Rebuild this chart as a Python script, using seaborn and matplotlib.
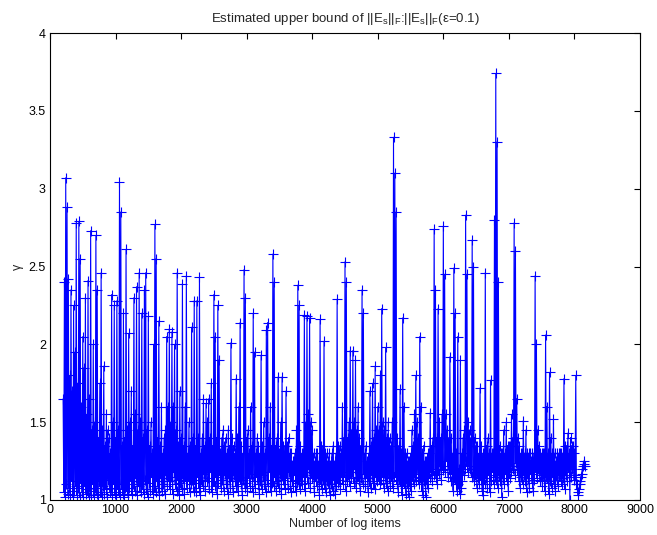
import numpy as np
import pandas as pd
import matplotlib
matplotlib.use("Agg")
import matplotlib.pyplot as plt
import seaborn as sns

# ---- data ----
# gamma_a: values at log items 200, 220, 240, ...
# gamma_b: values at log items 210, 230, 250, ...
x_start, x_step = 200, 10
gamma_a = [
    1.65, 2.40, 3.07, 2.88, 2.42, 1.80, 2.35, 1.70, 2.25, 1.95,   # 200
    2.78, 1.75, 2.79, 2.55, 1.60, 2.05, 1.85, 2.30, 1.55, 2.41,   # 400
    1.65, 2.73, 1.45, 2.00, 1.50, 2.70, 2.35, 1.40, 1.75, 2.46,   # 600
    1.45, 1.86, 1.35, 1.55, 1.45, 1.40, 1.30, 2.32, 1.50, 2.25,   # 800
    1.40, 2.28, 1.45, 3.04, 2.85, 1.35, 2.20, 1.40, 2.61, 1.45,   # 1000
    2.07, 1.50, 1.70, 1.35, 2.30, 1.55, 2.37, 1.45, 2.46, 1.50,   # 1200
    2.20, 1.40, 2.35, 2.46, 1.45, 2.18, 1.35, 1.50, 1.30, 2.00,   # 1400
    2.77, 2.55, 1.40, 2.15, 1.35, 1.60, 1.30, 1.40, 1.45, 2.05,   # 1600
    1.60, 2.10, 1.50, 2.08, 1.60, 2.00, 1.45, 2.46, 1.35, 1.70,   # 1800
    1.40, 2.39, 1.35, 1.60, 2.44, 1.30, 1.50, 1.35, 2.11, 1.40,   # 2000
    2.28, 1.35, 2.28, 1.40, 2.43, 1.30, 1.40, 1.65, 1.35, 1.62,   # 2200
    1.50, 1.65, 1.40, 1.75, 1.35, 2.32, 2.05, 1.40, 2.25, 1.90,   # 2400
    1.30, 1.40, 1.45, 1.35, 1.40, 1.30, 1.45, 1.35, 2.01, 1.40,   # 2600
    1.35, 1.30, 1.78, 1.40, 1.60, 2.14, 1.35, 1.30, 2.48, 2.30,   # 2800
    1.40, 1.45, 1.30, 1.60, 1.35, 2.20, 1.95, 1.30, 1.40, 1.35,   # 3000
    1.30, 1.93, 1.35, 1.50, 1.30, 2.09, 2.14, 1.40, 1.60, 1.35,   # 3200
    2.58, 2.40, 1.35, 1.40, 1.79, 1.30, 1.50, 1.79, 1.35, 1.35,   # 3400
    1.70, 1.35, 1.40, 1.30, 1.30, 1.25, 1.25, 1.30, 1.45, 2.38,   # 3600
    2.25, 1.35, 1.30, 1.30, 2.19, 1.50, 2.18, 1.55, 2.17, 1.50,   # 3800
    1.45, 1.30, 1.25, 1.30, 1.30, 1.25, 2.16, 1.35, 1.35, 2.02,   # 4000
    1.30, 1.30, 1.25, 1.30, 1.25, 1.30, 1.35, 1.25, 1.30, 2.29,   # 4200
    1.35, 1.35, 1.30, 1.60, 1.40, 2.53, 2.40, 1.40, 1.50, 1.96,   # 4400
    1.45, 1.96, 1.50, 1.90, 1.45, 1.60, 1.40, 1.35, 2.35, 2.20,   # 4600
    1.30, 1.35, 1.25, 1.30, 1.70, 1.35, 1.75, 1.40, 1.86, 1.45,   # 4800
    1.60, 1.45, 1.80, 2.23, 1.50, 1.45, 1.98, 1.40, 1.50, 1.40,   # 5000
    1.35, 1.50, 3.33, 3.10, 2.85, 1.40, 1.35, 1.71, 1.30, 2.17,   # 5200
    1.60, 1.30, 1.30, 1.25, 1.25, 1.30, 1.45, 1.35, 1.55, 1.80,   # 5400
    1.50, 1.40, 2.05, 1.60, 1.30, 1.35, 1.25, 1.25, 1.30, 1.30,   # 5600
    1.56, 1.35, 1.40, 2.74, 2.35, 1.40, 2.23, 1.50, 1.40, 1.55,   # 5800
    2.76, 2.45, 1.55, 1.45, 1.40, 1.92, 1.40, 1.30, 2.49, 2.20,   # 6000
    1.30, 2.05, 1.20, 1.90, 1.30, 1.40, 1.45, 2.83, 2.45, 1.50,   # 6200
    1.45, 1.40, 2.67, 2.50, 1.40, 1.35, 1.35, 1.30, 1.72, 1.35,   # 6400
    1.30, 1.30, 2.46, 1.35, 1.40, 1.30, 1.77, 1.30, 1.30, 2.80,   # 6600
    3.74, 3.30, 2.40, 1.35, 1.30, 1.30, 1.45, 1.30, 1.50, 1.35,   # 6800
    1.35, 1.35, 1.55, 1.40, 2.78, 2.60, 1.65, 1.40, 1.35, 1.30,   # 7000
    1.30, 1.51, 1.30, 1.45, 1.30, 1.30, 1.30, 1.25, 1.30, 1.30,   # 7200
    2.44, 2.00, 1.45, 1.35, 1.30, 1.30, 1.30, 1.30, 2.06, 1.60,   # 7400
    1.30, 1.82, 1.40, 1.30, 1.52, 1.30, 1.25, 1.30, 1.30, 1.30,   # 7600
    1.30, 1.30, 1.78, 1.35, 1.35, 1.43, 1.30, 1.40, 1.35, 1.35,   # 7800
    1.30, 1.80, 1.10, 1.05, 1.10, 1.15, 1.20, 1.25, 1.22,         # 8000
]
gamma_b = [
    1.05, 1.02, 1.10, 1.04, 1.08, 1.03, 1.12, 1.02, 1.06, 1.09,   # 210
    1.03, 1.08, 1.02, 1.11, 1.05, 1.02, 1.09, 1.04, 1.07, 1.02,   # 410
    1.06, 1.03, 1.10, 1.02, 1.08, 1.04, 1.03, 1.12, 1.05, 1.02,   # 610
    1.09, 1.04, 1.07, 1.02, 1.13, 1.05, 1.08, 1.03, 1.10, 1.04,   # 810
    1.02, 1.07, 1.05, 1.03, 1.10, 1.04, 1.02, 1.08, 1.06, 1.03,   # 1010
    1.08, 1.12, 1.04, 1.10, 1.06, 1.14, 1.03, 1.09, 1.12, 1.05,   # 1210
    1.10, 1.04, 1.13, 1.07, 1.02, 1.11, 1.06, 1.15, 1.04, 1.09,   # 1410
    1.05, 1.12, 1.08, 1.03, 1.14, 1.06, 1.10, 1.04, 1.16, 1.09,   # 1610
    1.12, 1.07, 1.15, 1.04, 1.18, 1.10, 1.06, 1.13, 1.03, 1.11,   # 1810
    1.07, 1.14, 1.04, 1.12, 1.08, 1.16, 1.05, 1.10, 1.13, 1.06,   # 2010
    1.11, 1.05, 1.15, 1.08, 1.03, 1.13, 1.09, 1.17, 1.06, 1.12,   # 2210
    1.14, 1.07, 1.18, 1.05, 1.12, 1.09, 1.15, 1.04, 1.11, 1.16,   # 2410
    1.08, 1.13, 1.06, 1.17, 1.10, 1.04, 1.14, 1.08, 1.12, 1.05,   # 2610
    1.16, 1.09, 1.12, 1.06, 1.15, 1.10, 1.03, 1.13, 1.08, 1.11,   # 2810
    1.06, 1.14, 1.09, 1.17, 1.05, 1.12, 1.08, 1.15, 1.10, 1.04,   # 3010
    1.12, 1.07, 1.16, 1.10, 1.05, 1.13, 1.09, 1.18, 1.06, 1.11,   # 3210
    1.09, 1.15, 1.06, 1.12, 1.08, 1.17, 1.04, 1.13, 1.10, 1.07,   # 3410
    1.14, 1.08, 1.18, 1.05, 1.12, 1.09, 1.16, 1.06, 1.11, 1.13,   # 3610
    1.07, 1.12, 1.10, 1.15, 1.06, 1.18, 1.11, 1.20, 1.08, 1.14,   # 3810
    1.16, 1.05, 1.12, 1.09, 1.14, 1.03, 1.10, 1.07, 1.13, 1.08,   # 4010
    1.05, 1.12, 1.08, 1.03, 1.10, 1.06, 1.13, 1.04, 1.09, 1.11,   # 4210
    1.13, 1.07, 1.15, 1.10, 1.18, 1.06, 1.12, 1.16, 1.09, 1.14,   # 4410
    1.18, 1.11, 1.20, 1.08, 1.15, 1.12, 1.06, 1.14, 1.10, 1.17,   # 4610
    1.09, 1.14, 1.05, 1.12, 1.08, 1.16, 1.11, 1.07, 1.15, 1.12,   # 4810
    1.16, 1.10, 1.13, 1.18, 1.08, 1.15, 1.11, 1.06, 1.14, 1.09,   # 5010
    1.12, 1.08, 1.15, 1.18, 1.10, 1.05, 1.13, 1.09, 1.03, 1.12,   # 5210
    1.08, 1.04, 1.11, 1.02, 1.09, 1.06, 1.13, 1.10, 1.15, 1.12,   # 5410
    1.17, 1.10, 1.14, 1.06, 1.03, 1.12, 1.02, 1.10, 1.08, 1.14,   # 5610
    1.18, 1.12, 1.16, 1.20, 1.14, 1.10, 1.17, 1.22, 1.13, 1.19,   # 5810
    1.22, 1.18, 1.25, 1.15, 1.20, 1.12, 1.17, 1.06, 1.14, 1.10,   # 6010
    1.06, 1.10, 1.04, 1.08, 1.12, 1.16, 1.20, 1.25, 1.18, 1.22,   # 6210
    1.20, 1.15, 1.18, 1.12, 1.16, 1.08, 1.14, 1.10, 1.13, 1.06,   # 6410
    1.03, 1.10, 1.14, 1.08, 1.16, 1.05, 1.12, 1.18, 1.10, 1.15,   # 6610
    1.13, 1.08, 1.16, 1.12, 1.02, 1.14, 1.10, 1.17, 1.12, 1.06,   # 6810
    1.14, 1.18, 1.22, 1.20, 1.16, 1.24, 1.19, 1.12, 1.08, 1.15,   # 7010
    1.10, 1.16, 1.12, 1.05, 1.14, 1.08, 1.17, 1.11, 1.06, 1.13,   # 7210
    1.18, 1.14, 1.20, 1.12, 1.16, 1.09, 1.13, 1.06, 1.15, 1.11,   # 7410
    1.04, 1.12, 1.08, 1.15, 1.10, 1.06, 1.13, 1.09, 1.16, 1.12,   # 7610
    1.10, 1.14, 1.07, 1.16, 1.12, 1.18, 1.00, 1.15, 1.20, 1.13,   # 7810
    1.16, 1.10, 1.03, 1.07, 1.12, 1.17, 1.22, 1.23,               # 8010
]

x_ticks = [0, 1000, 2000, 3000, 4000, 5000, 6000, 7000, 8000, 9000]
y_ticks = [1, 1.5, 2, 2.5, 3, 3.5, 4]
y_tick_labels = ["1", "1.5", "2", "2.5", "3", "3.5", "4"]

title_text = r"Estimated upper bound of $\mathregular{||E_s||_F}$:$\mathregular{||E_s||_F}$(ε=0.1)"
x_label = "Number of log items"
y_label = "γ"

# interleave the two sample sets into one series
gamma = []
for i, a in enumerate(gamma_a):
    gamma.append(a)
    if i < len(gamma_b):
        gamma.append(gamma_b[i])
log_items = x_start + x_step * np.arange(len(gamma))

# ---- drawing ----
sns.set_theme(style="white")
plt.rcParams["font.family"] = ["Liberation Sans", "DejaVu Sans"]
plt.rcParams["mathtext.fontset"] = "custom"
plt.rcParams["mathtext.rm"] = "Liberation Sans"

df = pd.DataFrame({"items": log_items, "gamma": gamma})

fig = plt.figure(figsize=(6.57, 5.35), dpi=100)
ax = fig.add_axes([50 / 657, 35 / 535, 590 / 657, 467 / 535])

sns.lineplot(data=df, x="items", y="gamma", ax=ax, color="#0000ff",
             linewidth=0.8, marker="+", markersize=7, markeredgewidth=0.8,
             markeredgecolor="#0000ff", estimator=None, sort=False)

ax.set_xlim(0, 9000)
ax.set_ylim(1, 4)
ax.set_xticks(x_ticks)
ax.set_xticklabels([str(t) for t in x_ticks])
ax.set_yticks(y_ticks)
ax.set_yticklabels(y_tick_labels)
ax.tick_params(direction="in", length=4, width=0.8, top=True, right=True,
               labelsize=9, colors="black", pad=3)
for s in ax.spines.values():
    s.set_visible(True)
    s.set_color("black")
    s.set_linewidth(0.8)

ax.set_xlabel(x_label, fontsize=9, labelpad=1)
ax.set_ylabel(y_label, fontsize=9, labelpad=3)
ax.set_title(title_text, fontsize=9.5, pad=8)

fig.savefig("out.png", dpi=100)
